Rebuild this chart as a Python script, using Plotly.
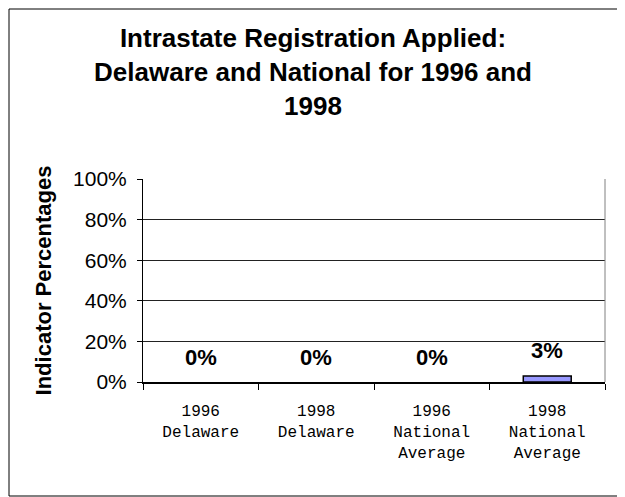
import plotly.graph_objects as go

# Chart data
categories = ["1996<br>Delaware", "1998<br>Delaware", "1996<br>National<br>Average", "1998<br>National<br>Average"]
values = [0, 0, 0, 3]
labels = ["0%", "0%", "0%", "3%"]
y_ticks = [0, 20, 40, 60, 80, 100]
y_ticklabels = ["0%", "20%", "40%", "60%", "80%", "100%"]

W, H = 617, 489
L, R, T, B = 135, 20, 171, 115
pw, ph = W - L - R, H - T - B

fig = go.Figure()

fig.add_trace(go.Bar(
    x=categories,
    y=values,
    width=0.415,
    marker=dict(color="#9999FF",
                line=dict(color="black", width=[1.5 if v > 0 else 0 for v in values])),
    showlegend=False,
))

# value labels above each bar
for cat, val, lab in zip(categories, values, labels):
    fig.add_annotation(
        x=cat, y=val, text="<b>" + lab + "</b>",
        showarrow=False, yshift=25,
        font=dict(family="Liberation Sans, Arial", size=22, color="black"),
    )

# outer chart border
fig.add_shape(type="rect", xref="paper", yref="paper",
              x0=(1 - L) / pw, x1=(W - 2 - L) / pw,
              y0=-(B - 1) / ph, y1=1 + (T - 1) / ph,
              line=dict(color="black", width=1), fillcolor="rgba(0,0,0,0)")
# right border of plot area
fig.add_shape(type="line", xref="paper", yref="paper",
              x0=1, x1=1, y0=0, y1=1, line=dict(color="#808080", width=1))

fig.update_layout(
    width=W, height=H,
    paper_bgcolor="white", plot_bgcolor="white",
    margin=dict(l=L, r=R, t=T, b=B),
    title=dict(
        text="<b>Intrastate Registration Applied:<br>Delaware and National for 1996 and<br>1998</b>",
        x=305 / W, xanchor="center", xref="container",
        y=1 - 39 / H, yanchor="middle",
        font=dict(family="Liberation Sans, Arial", size=26, color="black"),
    ),
)

fig.update_yaxes(
    range=[0, 100],
    tickvals=y_ticks, ticktext=y_ticklabels,
    showgrid=True, gridcolor="#222222", gridwidth=1,
    showline=True, linecolor="black", linewidth=1,
    ticks="outside", ticklen=5, tickcolor="black", ticklabelstandoff=6,
    tickfont=dict(family="Liberation Sans, Arial", size=21, color="black"),
    title=dict(text="<b>Indicator Percentages</b>", standoff=15,
               font=dict(family="Liberation Sans, Arial", size=22, color="black")),
    zeroline=False,
)

fig.update_xaxes(
    showline=True, linecolor="black", linewidth=1.5,
    ticks="outside", ticklen=6, tickcolor="black", tickson="boundaries",
    ticklabelstandoff=13,
    tickfont=dict(family="Liberation Mono, Courier New", size=16, color="black"),
    tickangle=0,
)

fig.write_html("out.html")
